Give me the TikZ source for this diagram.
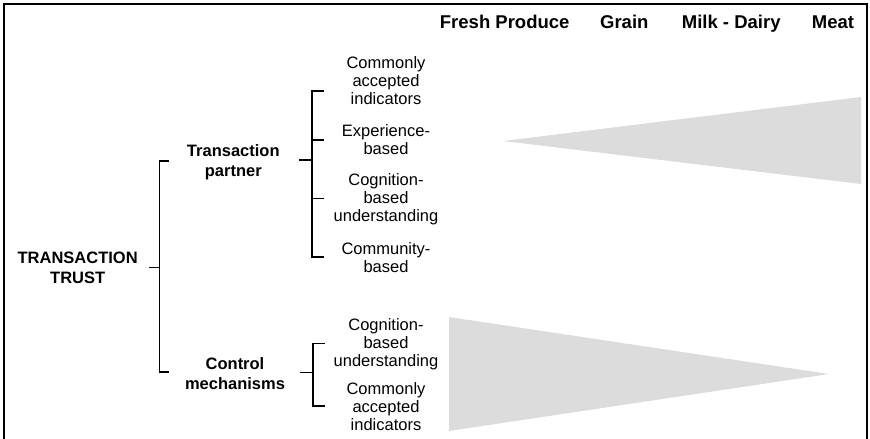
\documentclass[tikz,border=0pt]{standalone}
\usepackage{fontspec}
\setmainfont{Liberation Sans}
\definecolor{wedge}{HTML}{DCDCDC}
\begin{document}
\begin{tikzpicture}[x=1pt,y=-1pt,
  lbl/.style={align=center,inner sep=0pt,font=\fontsize{16.5}{18}\selectfont},
  blbl/.style={align=center,inner sep=0pt,font=\fontsize{16.5}{20}\selectfont\bfseries},
  hdr/.style={anchor=base,inner sep=0pt,font=\fontsize{18.5}{20}\selectfont\bfseries},
  br/.style={line width=1.6pt,line cap=rect},
  frame/.style={line width=2.2pt},
  wedgefill/.style={fill=wedge,draw=none}]
\useasboundingbox (0,0) rectangle (870,439);
% frame (no bottom edge)
\coordinate (fbl) at (4,440);
\coordinate (ftl) at (4,4);
\coordinate (ftr) at (867,4);
\coordinate (fbr) at (867,440);
\draw[frame] (fbl) -- (ftl) -- (ftr) -- (fbr);
% wedges
\coordinate (w1tip) at (503,141);
\coordinate (w1a) at (861,97);
\coordinate (w1b) at (861,184);
\fill[wedgefill] (w1tip) -- (w1a) -- (w1b) -- cycle;
\coordinate (w2a) at (449,317);
\coordinate (w2b) at (449,431);
\coordinate (w2tip) at (829,374);
\fill[wedgefill] (w2a) -- (w2tip) -- (w2b) -- cycle;
% header
\node[hdr] (h1) at (504.7,28.5) {Fresh Produce};
\node[hdr] (h2) at (624.3,28.5) {Grain};
\node[hdr] (h3) at (731.2,28.5) {Milk - Dairy};
\node[hdr] (h4) at (833,28.5) {Meat};
% bold labels
\node[blbl] (tt) at (77.7,268) {TRANSACTION\\TRUST};
\node[blbl] (tp) at (233.3,162) {Transaction\\partner};
\node[blbl] (cm) at (235,373.5) {Control\\mechanisms};
% leaf labels
\node[lbl] (c1) at (386,80.5) {Commonly\\accepted\\indicators};
\node[lbl] (c2) at (386,139.5) {Experience-\\based};
\node[lbl] (c3) at (386,199.5) {Cognition-\\based\\understanding};
\node[lbl] (c4) at (386,257.5) {Community-\\based};
\node[lbl] (d1) at (386,344) {Cognition-\\based\\understanding};
\node[lbl] (d2) at (386,406.5) {Commonly\\accepted\\indicators};
% main bracket
\coordinate (m0) at (150,267.5);
\coordinate (m) at (159.3,267.5);
\coordinate (mt) at (168,161);
\coordinate (mb) at (168,372);
\draw[br] (m0) -- (m);
\draw[br] (mt) -- (mt -| m) -- (mb -| m) -- (mb);
% partner bracket
\coordinate (p0) at (299.5,160);
\coordinate (p) at (311.7,160);
\coordinate (pt1) at (323,90.7);
\coordinate (pt2) at (323,140);
\coordinate (pt3) at (323,198.5);
\coordinate (pt4) at (323,256.7);
\draw[br] (p0) -- (p);
\draw[br] (pt1) -- (pt1 -| p) -- (pt4 -| p) -- (pt4);
\draw[br] (pt2 -| p) -- (pt2);
\draw[br] (pt3 -| p) -- (pt3);
% control bracket
\coordinate (q0) at (301,372.3);
\coordinate (q) at (312.7,372.3);
\coordinate (qt1) at (324,343.3);
\coordinate (qt2) at (324,406);
\draw[br] (q0) -- (q);
\draw[br] (qt1) -- (qt1 -| q) -- (qt2 -| q) -- (qt2);
\end{tikzpicture}
\end{document}
